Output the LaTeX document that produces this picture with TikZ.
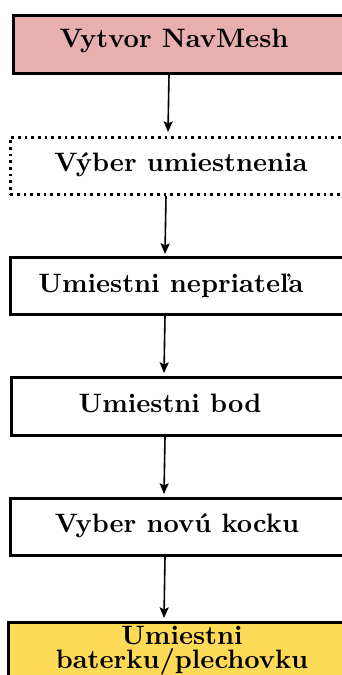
\documentclass[tikz,border=0pt]{standalone}
\usetikzlibrary{arrows.meta,calc}
\definecolor{pinkfill}{HTML}{E8AFAF}
\definecolor{yellowfill}{HTML}{FFDA57}
\begin{document}
\begin{tikzpicture}[x=0.375pt,y=-0.375pt,
  box/.style={draw, line width=1.1pt, minimum width=150pt, minimum height=#1*0.375pt, anchor=north west, inner sep=0pt},
  lbl/.style={font=\bfseries, inner sep=0pt, align=center, anchor=base},
  arr/.style={line width=0.6pt, -{Stealth[length=4pt,width=3.4pt,inset=0.8pt]}}]
\useasboundingbox (0,0) rectangle (342,675);
\clip (0,0) rectangle (342,675);
\node[box=58, fill=pinkfill] (b1) at (12,14) {};
\node[box=57, dash pattern=on 1pt off 1.5pt] (b2) at (9,136) {};
\node[box=57] (b3) at (9,256) {};
\node[box=58] (b4) at (10,376) {};
\node[box=57] (b5) at (9,497) {};
\node[box=90, fill=yellowfill] (b6) at (7,621) {};
\node[lbl] (t1) at (174,47) {Vytvor NavMesh};
\node[lbl] (t2) at (181,171) {Výber umiestnenia};
\node[lbl] (t3) at (171,292) {Umiestni nepriateľa};
\node[lbl] (t4) at (170,412) {Umiestni bod};
\node[lbl] (t5) at (177,532) {Vyber novú kocku};
\node[lbl, anchor=north] (t6) at (182,626) {Umiestni\\[-3pt]baterku/plechovku};
\draw[arr] ($(b1.south west)+(157,0)$) -- ($(b2.north west)+(159,-4)$);
\draw[arr] ($(b2.south west)+(157,0)$) -- ($(b3.north west)+(156,-2)$);
\draw[arr] ($(b3.south west)+(156,0)$) -- ($(b4.north west)+(154,-3)$);
\draw[arr] ($(b4.south west)+(155,0)$) -- ($(b5.north west)+(155,-3)$);
\draw[arr] ($(b5.south west)+(156,0)$) -- ($(b6.north west)+(157,-3)$);
\end{tikzpicture}
\end{document}
